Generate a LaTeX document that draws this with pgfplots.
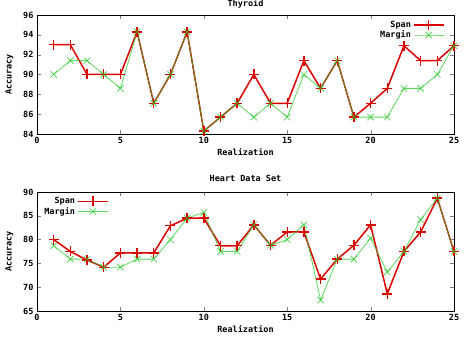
\documentclass[border=0pt]{standalone}
\usepackage{pgfplots}
\pgfplotsset{compat=1.18}
\usepackage{fontspec}
\setmainfont{DejaVu Sans Mono}
\definecolor{spanred}{RGB}{220,0,0}
\definecolor{margreen}{RGB}{40,200,40}

\pgfplotstableread{
x span margin
1 93.0 90.0
2 93.0 91.4
3 90.0 91.4
4 90.0 90.0
5 90.0 88.6
6 94.3 94.3
7 87.1 87.1
8 90.0 90.0
9 94.3 94.3
10 84.3 84.3
11 85.7 85.7
12 87.1 87.1
13 90.0 85.7
14 87.1 87.1
15 87.1 85.7
16 91.4 90.0
17 88.6 88.6
18 91.4 91.4
19 85.7 85.7
20 87.1 85.7
21 88.6 85.7
22 92.9 88.6
23 91.4 88.6
24 91.4 90.0
25 92.9 92.9
}\thyroid

\pgfplotstableread{
x span margin
1 80.0 78.7
2 77.5 75.9
3 75.7 75.9
4 74.2 74.2
5 77.2 74.2
6 77.2 75.9
7 77.2 75.9
8 82.9 80.0
9 84.5 84.5
10 84.5 85.7
11 78.7 77.5
12 78.7 77.5
13 83.1 83.1
14 78.8 78.8
15 81.6 80.0
16 81.6 83.1
17 71.7 67.3
18 75.9 75.9
19 78.8 75.9
20 83.1 80.3
21 68.6 73.2
22 77.5 77.5
23 81.6 84.2
24 88.7 88.7
25 77.5 77.5
}\heart

\pgfplotsset{
  myax/.style={
    scale only axis, width=417pt, height=119pt,
    xmin=0, xmax=25, xtick={0,5,...,25},
    tick align=inside,
    major tick length=4pt,
    font=\bfseries\fontsize{8.5}{9}\selectfont,
    tick label style={font=\bfseries\fontsize{8.5}{9}\selectfont},
    /pgf/number format/assume math mode=true,
    xlabel={Realization}, ylabel={Accuracy},
    xlabel style={yshift=2pt},
    ylabel style={yshift=3pt},
    title style={yshift=1pt},
    legend style={draw=none, fill=none, font=\bfseries\fontsize{8.5}{9}\selectfont, row sep=-2pt},
    legend cell align=right,
    legend plot pos=right,
    legend image code/.code={\draw[mark repeat=2,mark phase=2] plot coordinates {(0cm,0cm)(0.53cm,0cm)(1.06cm,0cm)};},
  },
  spanst/.style={color=spanred, line width=1.5pt, mark=+, mark size=5pt, mark options={line width=1.4pt}},
  margst/.style={color=margreen, line width=0.8pt, mark=x, mark size=4.5pt, opacity=0.75},
}

\begin{document}
\begin{tikzpicture}
\useasboundingbox (0,0) rectangle (467pt,347pt);
\begin{axis}[myax, at={(37pt,213pt)}, anchor=south west,
  ymin=84, ymax=96, ytick={84,86,...,96},
  title={Thyroid}, title style={yshift=-4pt},
  legend style={at={(0.985,0.985)}, anchor=north east}]
\addplot[spanst] table[x=x,y=span] {\thyroid};
\addlegendentry{Span}
\addplot[margst] table[x=x,y=margin] {\thyroid};
\addlegendentry{Margin}
\end{axis}
\begin{axis}[myax, at={(37pt,36pt)}, anchor=south west,
  ymin=65, ymax=90, ytick={65,70,...,90},
  title={Heart Data Set},
  legend style={at={(0.005,0.99)}, anchor=north west}]
\addplot[spanst] table[x=x,y=span] {\heart};
\addlegendentry{Span}
\addplot[margst] table[x=x,y=margin] {\heart};
\addlegendentry{Margin}
\end{axis}
\end{tikzpicture}
\end{document}
